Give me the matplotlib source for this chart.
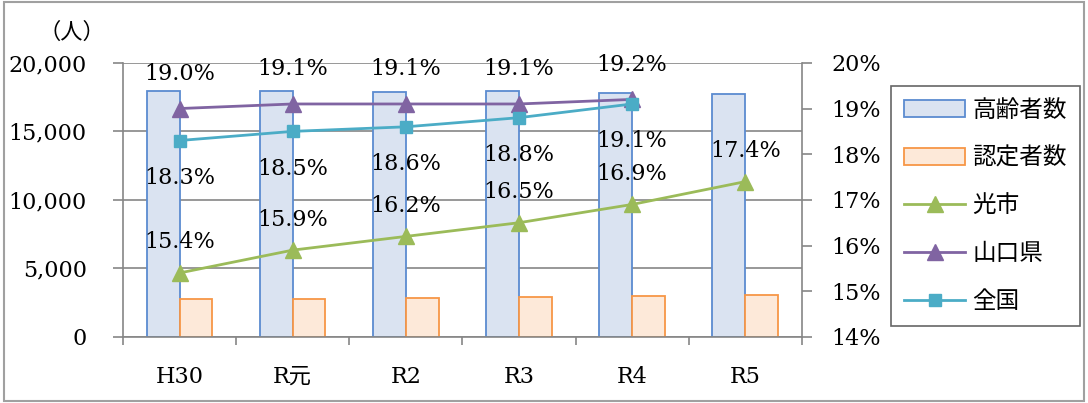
import numpy as np
import matplotlib
matplotlib.use("Agg")
import matplotlib.pyplot as plt
from matplotlib.patches import Rectangle
from matplotlib.ticker import FuncFormatter

plt.rcParams['font.family'] = ['DejaVu Serif', 'Noto Sans CJK JP']

years = ['H30', 'R元', 'R2', 'R3', 'R4', 'R5']
koureisha = [17950, 17950, 17900, 17950, 17800, 17750]
ninteisha = [2750, 2800, 2870, 2920, 2950, 3040]
hikari = [15.4, 15.9, 16.2, 16.5, 16.9, 17.4]
yamaguchi = [19.0, 19.1, 19.1, 19.1, 19.2]
zenkoku = [18.3, 18.5, 18.6, 18.8, 19.1]

grey = '#868686'
fs = 16
fig = plt.figure(figsize=(10.88, 4.03), dpi=100)
fig.patches.append(Rectangle((0.004, 0.005), 0.992, 0.99, transform=fig.transFigure,
                             fill=False, edgecolor='#a0a0a0', linewidth=1.5))
ax = fig.add_axes([0.113, 0.164, 0.624, 0.680])
ax2 = ax.twinx()

x = np.arange(len(years))
w = 0.29
b1 = ax.bar(x - w / 2, koureisha, w, color='#dae3f1', edgecolor='#5b8bd0', linewidth=1.3, label='高齢者数')
b2 = ax.bar(x + w / 2, ninteisha, w, color='#fde9d9', edgecolor='#f79646', linewidth=1.3, label='認定者数')
ax.set_ylim(0, 20000)
ax.set_xlim(-0.5, 5.5)
ax.set_yticks(range(0, 20001, 5000))
ax.yaxis.set_major_formatter(FuncFormatter(lambda v, p: f'{int(v):,}'))
ax.grid(axis='y', color=grey, linewidth=1.2)
ax.set_axisbelow(True)
ax.set_xticks(x)
ax.set_xticklabels(years)
ax.set_xticks(np.arange(-0.5, 6, 1), minor=True)
ax.tick_params(axis='x', which='major', length=0, pad=21, labelsize=fs)
ax.tick_params(axis='x', which='minor', length=6, color=grey, width=1.2)
ax.tick_params(axis='y', length=7, color=grey, width=1.2, labelsize=fs, pad=19)
for s in ['left', 'bottom', 'right']:
    ax.spines[s].set_color(grey)
    ax.spines[s].set_linewidth(1.2)
ax.spines['top'].set_visible(False)
ax.text(-0.075, 1.11, '（人）', transform=ax.transAxes, fontsize=16, ha='center', va='center')

l1, = ax2.plot(x, hikari, color='#9bbb59', lw=2, marker='^', ms=11, label='光市')
l2, = ax2.plot(x[:5], yamaguchi, color='#8064a2', lw=2, marker='^', ms=11, label='山口県')
l3, = ax2.plot(x[:5], zenkoku, color='#4bacc6', lw=2, marker='s', ms=9, label='全国')
ax2.set_ylim(14, 20)
ax2.set_yticks(range(14, 21))
ax2.yaxis.set_major_formatter(FuncFormatter(lambda v, p: f'{int(v)}%'))
ax2.tick_params(axis='y', length=7, color=grey, width=1.2, labelsize=fs, pad=14)
for s in ax2.spines.values():
    s.set_visible(False)

for xi, v in zip(x, hikari):
    ax2.annotate(f'{v:.1f}%', (xi, v), xytext=(0, 22), textcoords='offset points',
                 ha='center', va='center', fontsize=fs)
for xi, v in zip(x, yamaguchi):
    ax2.annotate(f'{v:.1f}%', (xi, v), xytext=(0, 25), textcoords='offset points',
                 ha='center', va='center', fontsize=fs)
for xi, v in zip(x, zenkoku):
    ax2.annotate(f'{v:.1f}%', (xi, v), xytext=(0, -27), textcoords='offset points',
                 ha='center', va='center', fontsize=fs)

leg = fig.legend([b1, b2, l1, l2, l3], ['高齢者数', '認定者数', '光市', '山口県', '全国'],
                 loc='upper left', bbox_to_anchor=(0.819, 0.787), borderaxespad=0,
                 fancybox=False, edgecolor='#404040',
                 prop={'family': 'Noto Sans CJK JP', 'size': 17},
                 handlelength=2.6, labelspacing=1.05, borderpad=0.55, handletextpad=0.3)
leg.get_frame().set_linewidth(1.2)

fig.savefig('out.png', dpi=100)
